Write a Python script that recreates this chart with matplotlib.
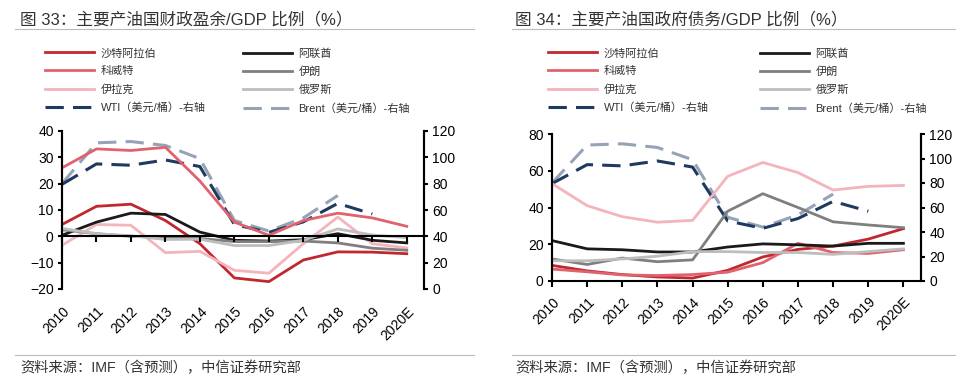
import matplotlib.pyplot as plt
from matplotlib.lines import Line2D

plt.rcParams['font.family'] = ['Liberation Sans', 'Noto Sans CJK SC', 'DejaVu Sans']

years = ['2010', '2011', '2012', '2013', '2014', '2015', '2016', '2017', '2018', '2019', '2020E']
names = ['沙特阿拉伯', '科威特', '伊拉克', '阿联酋', '伊朗', '俄罗斯']
colors = ['#c0282e', '#e0626f', '#f3b4bb', '#1a1a1a', '#7f7f7f', '#bdbdbd']

# 财政盈余/GDP (%)
surplus = {
    '沙特阿拉伯': [4.5, 11.4, 12.2, 6.0, -2.8, -15.8, -17.2, -9.0, -5.9, -6.0, -6.6],
    '科威特': [26.0, 33.2, 32.6, 33.8, 21.0, 5.4, 0.4, 6.0, 8.8, 7.0, 3.8],
    '伊拉克': [-3.4, 4.5, 4.2, -6.2, -5.7, -12.9, -14.0, -2.8, 7.3, -2.8, -4.4],
    '阿联酋': [0.4, 5.4, 8.8, 8.3, 1.6, -1.5, -1.8, -1.3, 1.0, -1.5, -2.5],
    '伊朗': [2.5, 1.0, 0.0, -0.3, -0.8, -2.0, -2.0, -1.8, -2.5, -4.5, -5.3],
    '俄罗斯': [3.0, 1.0, 0.2, -1.2, -1.1, -3.5, -3.5, -1.5, 2.8, 0.5, -0.5],
}

# 政府债务/GDP (%)
debt = {
    '沙特阿拉伯': [8.5, 5.5, 3.5, 2.2, 1.6, 5.8, 13.1, 17.2, 19.0, 22.8, 28.5],
    '科威特': [6.5, 5.0, 3.3, 3.0, 3.5, 4.8, 10.0, 20.5, 15.5, 15.0, 17.0],
    '伊拉克': [53.0, 41.0, 35.0, 32.0, 33.0, 57.0, 64.5, 59.0, 49.5, 51.5, 52.0],
    '阿联酋': [22.0, 17.5, 17.0, 15.8, 15.8, 18.5, 20.2, 19.7, 19.0, 20.5, 20.5],
    '伊朗': [12.0, 9.0, 12.5, 10.5, 11.5, 38.0, 47.5, 40.0, 32.2, 30.5, 29.0],
    '俄罗斯': [11.0, 11.0, 12.0, 13.5, 16.0, 16.0, 15.5, 15.5, 14.5, 16.0, 17.5],
}

# 油价 (美元/桶)
wti = [79.5, 95.0, 94.0, 98.0, 93.0, 49.0, 43.0, 51.0, 65.0, 57.0]
brent = [80.0, 111.0, 112.0, 109.0, 99.0, 52.0, 44.0, 54.0, 71.0]

wti_c = '#1f3a5f'
brent_c = '#96a3b6'

fig = plt.figure(figsize=(9.6, 3.82), dpi=100)


def draw(rect, data, ylim, yticks, zero_spine, title, tx, line_x0, line_x1, leg_x1, leg_x2):
    ax = fig.add_axes(rect)
    ax2 = ax.twinx()
    x = list(range(len(years)))
    ax2.plot(range(len(brent)), brent, color=brent_c, lw=2.2, dashes=(6, 3))
    ax2.plot(range(len(wti)), wti, color=wti_c, lw=2.2, dashes=(6, 3))
    ax.set_zorder(ax2.get_zorder() + 1)
    ax.patch.set_visible(False)
    for n, c in zip(names, colors):
        ax.plot(x, data[n], color=c, lw=2)

    if zero_spine:
        ax.spines['bottom'].set_position(('data', 0))
    ax.set_xlim(0, 10.5)
    ax.set_ylim(*ylim)
    ax.set_yticks(yticks)
    ax2.set_ylim(0, 120)
    ax2.set_yticks(range(0, 121, 20))
    for a in (ax, ax2):
        a.spines['top'].set_visible(False)
        a.spines['left'].set_linewidth(1.5)
        a.spines['right'].set_linewidth(1.5)
        a.tick_params(axis='y', direction='out', length=3, width=1.5, labelsize=10, colors='black', pad=3)
    ax2.spines['bottom'].set_visible(False)
    ax.spines['bottom'].set_linewidth(1.5)
    ax.spines['bottom'].set_zorder(5)
    ax.xaxis.set_zorder(5)
    ax.set_xticks(x)
    ax.set_xticklabels(years, rotation=45, ha='right', va='top', rotation_mode='anchor', fontsize=10)
    pad = 45 if zero_spine else 6
    ax.tick_params(axis='x', direction='out', length=4, width=1.5, pad=pad)

    # title and rules
    fig.text(tx, 1 - 19 / 382, title, fontsize=12, color='#333333', va='center')
    fig.add_artist(Line2D([line_x0, line_x1], [1 - 29 / 382] * 2, color='#bbbbbb', lw=0.8))
    fig.add_artist(Line2D([line_x0, line_x1], [1 - 355 / 382] * 2, color='#bbbbbb', lw=0.8))
    fig.text(tx, 1 - 368 / 382, '资料来源：IMF（含预测），中信证券研究部', fontsize=10.3,
             color='#333333', va='center')

    h = [Line2D([], [], color=c, lw=2) for c in colors]
    hw = Line2D([], [], color=wti_c, lw=2.2, dashes=(6, 3))
    hb = Line2D([], [], color=brent_c, lw=2.2, dashes=(6, 3))
    kw = dict(loc='upper left', frameon=False, fontsize=8, borderpad=0, borderaxespad=0,
              handlelength=4.4, handletextpad=0.6, labelspacing=0.7,
              bbox_transform=fig.transFigure, labelcolor='#333333')
    l1 = ax.legend(h[:3] + [hw], names[:3] + ['WTI（美元/桶）-右轴'],
                   bbox_to_anchor=(leg_x1, 1 - 48 / 382), **kw)
    ax.add_artist(l1)
    ax.legend(h[3:] + [hb], names[3:] + ['Brent（美元/桶）-右轴'],
              bbox_to_anchor=(leg_x2, 1 - 48 / 382), **kw)


draw([62 / 960, 1 - 289 / 382, (424 - 62) / 960, (289 - 131) / 382], surplus,
     (-20, 40), range(-20, 41, 10), True, '图 33：主要产油国财政盈余/GDP 比例（%）',
     20 / 960, 15 / 960, 474 / 960, 45 / 960, 243 / 960)
draw([552 / 960, 1 - 281 / 382, (921 - 552) / 960, (281 - 134) / 382], debt,
     (0, 80), range(0, 81, 20), False, '图 34：主要产油国政府债务/GDP 比例（%）',
     515 / 960, 512 / 960, 955 / 960, 548 / 960, 760 / 960)

fig.savefig('out.png', dpi=100)
